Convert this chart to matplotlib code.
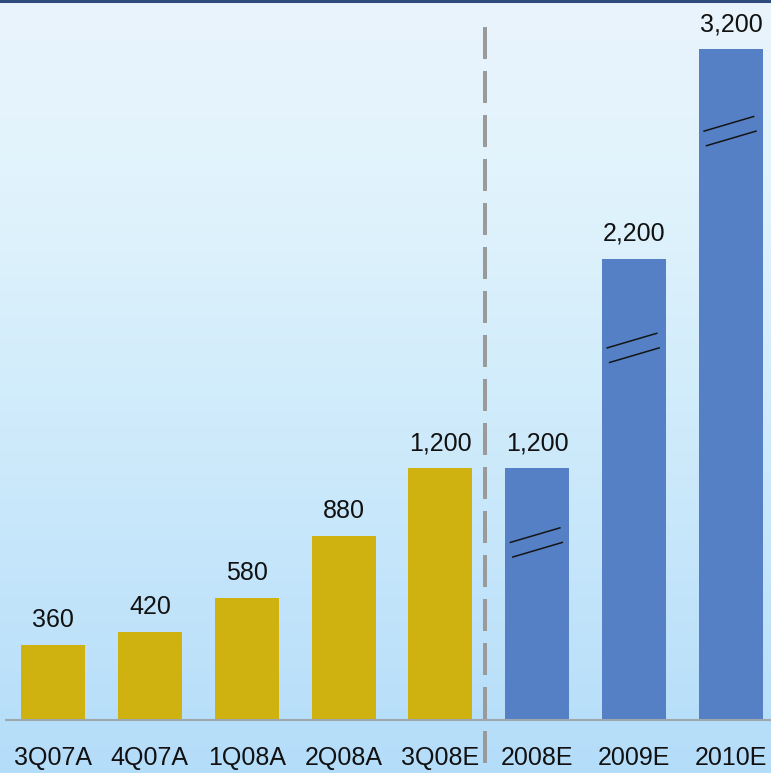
import numpy as np
import matplotlib
matplotlib.use("Agg")
import matplotlib.pyplot as plt
from matplotlib.colors import LinearSegmentedColormap
from matplotlib.lines import Line2D

# ---- data ----
categories = ["3Q07A", "4Q07A", "1Q08A", "2Q08A", "3Q08E", "2008E", "2009E", "2010E"]
values = [360, 420, 580, 880, 1200, 1200, 2200, 3200]
value_labels = ["360", "420", "580", "880", "1,200", "1,200", "2,200", "3,200"]
bar_colors = ["#CFB20F"] * 5 + ["#5580C6"] * 3
# break marks (decorative) on the annual bars, as fraction of bar height
break_fracs = [None] * 5 + [0.706, 0.807, 0.878]

plt.rcParams['font.family'] = ['Liberation Sans', 'DejaVu Sans']

W, H = 771, 773
fig = plt.figure(figsize=(W / 100, H / 100), dpi=100)
ax = fig.add_axes([0, 0, 1, 1])

# pixel geometry -> data scale
px_per_x = 96.86
px_per_y = 0.2096
x0_px = 53.0
base_px = 720.0
ax.set_xlim(-x0_px / px_per_x, (W - x0_px) / px_per_x)
ax.set_ylim(-(H - base_px) / px_per_y, base_px / px_per_y)
ax.axis('off')

# background gradient
cmap = LinearSegmentedColormap.from_list(
    "bg", [(0.0, "#EAF3FC"), (0.25, "#E0F3FC"), (0.55, "#CFEBFB"), (1.0, "#B4DDF9")])
grad = np.linspace(0, 1, 256).reshape(-1, 1)
ax.imshow(grad, cmap=cmap, aspect='auto', extent=[0, 1, 0, 1],
          transform=ax.transAxes, zorder=0, origin='upper')

x = np.arange(len(categories))
ax.bar(x, values, width=64 / px_per_x, color=bar_colors, zorder=2)

# baseline
ax.plot([(5 - x0_px) / px_per_x, (W - x0_px) / px_per_x], [0, 0],
        color="#9FA7AE", lw=1.5, zorder=3, solid_capstyle='butt')

# value labels
for xi, v, lab in zip(x, values, value_labels):
    ax.annotate(lab, (xi, v), xytext=(0, 18 * 0.72), textcoords='offset points',
                ha='center', va='baseline', fontsize=18, color='#111111', zorder=4)

# category labels
for xi, c in zip(x, categories):
    ax.text(xi, -(758 - base_px) / px_per_y, c, ha='center', va='center',
            fontsize=18, color='#111111', zorder=4)

# dashed separator
xd = (485 - x0_px) / px_per_x
ax.plot([xd, xd], [(base_px - 27) / px_per_y, (base_px - 763) / px_per_y],
        color="#9A9A9A", lw=4 * 0.72, dashes=(8, 3), dash_capstyle='butt', zorder=3)

# break marks
hx = 25.5 / px_per_x
hy = 7.5 / px_per_y
for xi, v, f in zip(x, values, break_fracs):
    if f is None:
        continue
    yc = v * f
    for dx, dy in [(-1.2, 7.3), (1.2, -7.3)]:
        cx = xi - 0.01 + dx / px_per_x
        cy = yc + dy / px_per_y
        ax.plot([cx - hx, cx + hx], [cy - hy, cy + hy], color="#151515",
                lw=1.1, zorder=3, solid_capstyle='butt')

# top border line
fig.add_artist(Line2D([0, 1], [1 - 1.2 / H, 1 - 1.2 / H], transform=fig.transFigure,
                      color="#2E4B7E", lw=2.2))

fig.savefig("out.png", dpi=100)
